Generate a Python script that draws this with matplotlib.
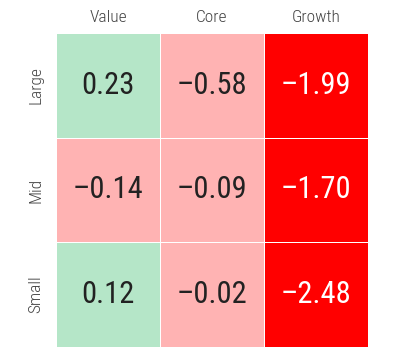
import numpy as np
import matplotlib.pyplot as plt
from matplotlib.colors import ListedColormap, BoundaryNorm
from matplotlib import font_manager

# ------------------------------------------
# DATA
# ------------------------------------------
col_labels = ['Value', 'Core', 'Growth']
row_labels = ['Large', 'Mid', 'Small']
values = np.array([
    [0.23, -0.58, -1.99],
    [-0.14, -0.09, -1.70],
    [0.12, -0.02, -2.48],
])

# colour bins: big drop / small drop / gain
bin_edges = [-10, -1, 0, 10]
bin_colors = ['#ff0000', '#ffb3b3', '#b5e6c8']

# pick a condensed font if one is installed
names = {f.name for f in font_manager.fontManager.ttflist}
font = 'Roboto'
for cand in ['Roboto Condensed', 'Barlow Semi Condensed', 'Asap Condensed',
             'IBM Plex Sans Condensed', 'Liberation Sans Narrow']:
    if cand in names:
        font = cand
        break
plt.rcParams['font.family'] = [font, 'DejaVu Sans']

fig = plt.figure(figsize=(3.94, 3.61), dpi=100)
ax = fig.add_axes([56/394, 1 - 347/361, 312/394, 314/361])

cmap = ListedColormap(bin_colors)
norm = BoundaryNorm(bin_edges, cmap.N)
ax.pcolormesh(values, cmap=cmap, norm=norm, edgecolors='white', linewidth=0.6)
ax.set_xlim(0, 3)
ax.set_ylim(3, 0)

for i in range(values.shape[0]):
    for j in range(values.shape[1]):
        v = values[i, j]
        txt = f'{v:.2f}'.replace('-', '\u2013')
        color = 'white' if v < -1 else '#222222'
        ax.text(j + 0.5, i + 0.5, txt, ha='center', va='center',
                fontsize=22, color=color)

ax.set_xticks(np.arange(3) + 0.5)
ax.set_xticklabels(col_labels, fontsize=12.5, color='#444444', fontweight='light')
ax.xaxis.tick_top()
ax.set_yticks(np.arange(3) + 0.5)
ax.set_yticklabels(row_labels, fontsize=12.5, color='#444444', fontweight='light',
                   rotation=90, va='center')
ax.tick_params(axis='x', length=0, pad=6)
ax.tick_params(axis='y', length=0, pad=9)
for s in ax.spines.values():
    s.set_visible(False)

fig.savefig('out.png', dpi=100)
